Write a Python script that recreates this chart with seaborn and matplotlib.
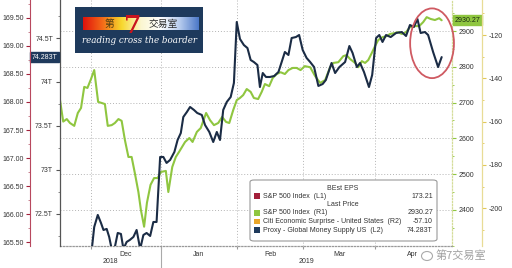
import numpy as np
import pandas as pd
import matplotlib
matplotlib.use("Agg")
import matplotlib.pyplot as plt
import seaborn as sns
import matplotlib.transforms as mtransforms
from matplotlib.patches import Ellipse, FancyBboxPatch, Rectangle
from matplotlib.ticker import FixedLocator, FixedFormatter, NullFormatter, MultipleLocator
from matplotlib.colors import LinearSegmentedColormap

# ---------------- data (x = trading-day position on the chart) ----------------
spx_day = [0.0, 0.9, 1.9, 2.8, 4.0, 5.0, 5.9, 6.8, 7.7, 8.7, 9.6, 10.7, 11.7, 12.6, 13.4,
           14.5, 15.4, 16.4, 17.3, 18.2, 19.2, 20.1, 21.0, 22.0, 22.7, 23.6, 24.4, 25.4,
           26.4, 27.4, 28.3, 29.7, 30.4, 31.5, 32.5, 33.4, 35.1, 36.3, 37.2, 38.4, 39.5,
           41.0, 42.1, 43.2, 44.4, 45.5, 46.6, 47.5, 48.6, 49.6, 50.5, 51.4, 52.4, 53.5,
           54.4, 55.6, 56.6, 57.5, 58.7, 59.7, 60.8, 61.9, 63.1, 64.1, 65.3, 66.4, 67.5,
           68.7, 70.2, 71.6, 73.0, 74.4, 75.8, 76.7, 78.1, 79.5, 80.4, 81.4, 82.8, 83.7,
           84.7, 85.6, 86.5, 87.5, 88.4, 89.3, 90.5, 91.7, 92.6, 93.7, 94.9, 95.9, 97.1,
           98.2, 99.6, 100.8, 101.9, 102.9, 104.0, 105.2, 106.4, 107.1]
spx_val = [2707, 2647, 2654, 2643, 2635, 2671, 2685, 2744, 2741, 2766, 2791, 2702, 2699, 2696, 2635,
           2637, 2643, 2654, 2649, 2596, 2548, 2548, 2503, 2450, 2400, 2353, 2420, 2470,
           2489, 2489, 2506, 2509, 2450, 2520, 2548, 2562, 2590, 2601, 2590, 2618, 2629,
           2671, 2651, 2637, 2643, 2660, 2646, 2643, 2679, 2707, 2713, 2721, 2738, 2730,
           2713, 2710, 2730, 2752, 2746, 2769, 2780, 2785, 2780, 2791, 2797, 2797, 2791,
           2802, 2799, 2774, 2755, 2763, 2799, 2811, 2813, 2830, 2833, 2822, 2811, 2799,
           2816, 2811, 2819, 2839, 2858, 2875, 2883, 2886, 2892, 2894, 2897, 2892, 2897,
           2911, 2914, 2914, 2925, 2939, 2934, 2931, 2936, 2930.27]

money_day = [8.9, 9.6, 10.6, 11.5, 12.2, 13.1, 13.8, 14.5, 15.4, 16.2, 17.1, 17.8, 18.7, 19.6,
             20.6, 21.5, 22.5, 23.4, 24.3, 25.3, 26.2, 27.1, 28.1, 29.0, 29.9, 30.9, 32.1,
             33.0, 33.9, 34.6, 35.6, 36.5, 37.6, 38.5, 39.8, 40.7, 41.9, 43.0, 44.0, 44.9,
             45.8, 46.8, 47.9, 48.8, 49.6, 50.5, 51.6, 52.6, 53.5, 54.4, 55.4, 56.1, 56.9,
             57.8, 58.9, 60.1, 61.3, 62.2, 63.1, 64.1, 65.0, 66.2, 67.1, 68.1, 69.2, 70.2,
             71.3, 72.5, 73.7, 74.6, 76.2, 77.2, 78.4, 80.0, 81.2, 82.1, 83.3, 84.2, 85.3,
             86.7, 87.6, 88.7, 89.6, 90.5, 91.5, 92.8, 94.3, 95.9, 97.1, 98.2, 99.3, 100.3,
             101.2, 102.4, 103.3, 104.7, 106.1, 107.1]
money_val = [72.09, 72.352, 72.489, 72.398, 72.318, 72.330, 72.239, 72.102, 72.125, 72.284,
             72.273, 72.102, 72.182, 72.205, 72.239, 72.318, 72.102, 72.261, 72.284, 72.250,
             72.409, 72.409, 73.148, 73.148, 73.080, 73.114, 73.205, 73.341, 73.420, 73.602,
             73.659, 73.716, 73.682, 73.648, 73.625, 73.511, 73.432, 73.318, 73.432, 73.341,
             73.682, 73.773, 73.830, 73.989, 74.682, 74.489, 74.420, 74.386, 74.250, 74.227,
             74.193, 73.943, 74.102, 74.057, 74.057, 74.068, 74.114, 74.227, 74.341, 74.307,
             74.500, 74.511, 74.534, 74.364, 74.273, 74.227, 74.170, 73.955, 73.977, 74.023,
             74.216, 74.102, 74.170, 74.227, 74.409, 74.330, 74.170, 74.216, 74.114, 73.943,
             74.080, 74.500, 74.534, 74.455, 74.534, 74.511, 74.557, 74.568, 74.523, 74.648,
             74.625, 74.716, 74.557, 74.568, 74.534, 74.341, 74.170, 74.283]

month_names = ["Dec", "Jan", "Feb", "Mar", "Apr"]
month_bounds = [8.7, 28.3, 49.7, 68.2, 88.4, 109.4]
year_names = ["2018", "2019"]
year_bounds = [0.0, 28.3, 110.0]

l1_ticks = [165.5, 166.0, 166.5, 167.0, 167.5, 168.0, 168.5, 169.0, 169.5]
l2_ticks = [72.5, 73.0, 73.5, 74.0, 74.5]
l2_labels = ["72.5T", "73T", "73.5T", "74T", "74.5T"]
r1_ticks = [2400, 2500, 2600, 2700, 2800, 2900]
r2_ticks = [-200, -180, -160, -140, -120]

legend_header1 = "BEst EPS"
legend_header2 = "Last Price"
legend_names = ["S&P 500 Index  (L1)", "S&P 500 Index  (R1)",
                "Citi Economic Surprise - United States  (R2)",
                "Proxy - Global Money Supply US  (L2)"]
legend_values = ["173.21", "2930.27", "-57.10", "74.283T"]

# ---------------- style ----------------
GREEN = "#8fc640"
NAVY = "#1b2c45"
RED = "#a3203a"
ORANGE = "#e9a62a"
TXT = "#333333"

sns.set_style("white")
plt.rcParams['font.family'] = ['Liberation Sans', 'DejaVu Sans']

W, H = 512, 268
DPI = 100
PX = 72 / DPI  # points per pixel
fig = plt.figure(figsize=(W / DPI, H / DPI), dpi=DPI)
fig.patch.set_facecolor("white")

ax0 = fig.add_axes([60 / W, 22 / H, 392 / W, 246 / H])  # R1 (S&P 500)
ax_l2 = ax0.twinx()   # money supply on the left
ax_l1 = ax0.twinx()   # EPS outer left
ax_r2 = ax0.twinx()   # Citi outer right

spx_df = pd.DataFrame({"day": spx_day, "value": spx_val})
money_df = pd.DataFrame({"day": money_day, "value": money_val})

sns.lineplot(data=spx_df, x="day", y="value", ax=ax0, color=GREEN, lw=1.5, sort=True)
sns.lineplot(data=money_df, x="day", y="value", ax=ax_l2, color=NAVY, lw=1.5, sort=True)

for a in (ax0, ax_l2, ax_l1, ax_r2):
    a.set_xlabel("")
    a.set_ylabel("")
    for s in a.spines.values():
        s.set_visible(False)

ax0.set_xlim(0, 110)
ax0.set_ylim(2299, 2987)
ax_l2.set_ylim(72.136, 74.932)
ax_l1.set_ylim(165.43, 169.82)
ax_r2.set_ylim(-217.5, -103.8)

# --- R1 axis (right spine)
ax0.yaxis.tick_right()
ax0.set_yticks(r1_ticks)
ax0.set_yticklabels([str(t) for t in r1_ticks])
ax0.yaxis.set_minor_locator(MultipleLocator(50))
ax0.spines['right'].set_visible(True)
ax0.spines['right'].set_color("#d4dc98")
ax0.spines['right'].set_linestyle((0, (1, 1.5)))
ax0.spines['right'].set_linewidth(0.9)
ax0.tick_params(axis='y', which='major', right=True, left=False, length=3, width=0.8,
                color=GREEN, labelcolor=TXT, labelsize=5, pad=2)
ax0.tick_params(axis='y', which='minor', right=True, left=False, length=1.5, width=0.6, color=GREEN)

# grid
ax0.grid(axis='y', which='major', ls=(0, (1, 2)), color="#b4b4b4", lw=0.7)
ax0.xaxis.set_major_locator(FixedLocator(month_bounds[:5]))
ax0.xaxis.set_major_formatter(NullFormatter())
mids = [(month_bounds[i] + month_bounds[i + 1]) / 2 for i in range(5)]
ax0.xaxis.set_minor_locator(FixedLocator(mids))
ax0.xaxis.set_minor_formatter(FixedFormatter(month_names))
ax0.grid(axis='x', which='major', ls=(0, (1, 2)), color="#b4b4b4", lw=0.7)
ax0.tick_params(axis='x', which='major', length=2, color="#999999", bottom=True)
ax0.tick_params(axis='x', which='minor', length=0, labelsize=5, labelcolor=TXT, pad=3.5, bottom=True)
ax0.spines['bottom'].set_visible(True)
ax0.spines['bottom'].set_color("#999999")
ax0.spines['bottom'].set_linestyle((0, (1, 1.5)))
ax0.spines['bottom'].set_linewidth(0.9)

# year labels and separator
xb = mtransforms.blended_transform_factory(ax0.transData, ax0.transAxes)
for i, yname in enumerate(year_names):
    xm = (year_bounds[i] + year_bounds[i + 1]) / 2
    ax0.text(xm, -0.065, yname, transform=xb, ha='center', va='center', fontsize=5, color=TXT)
ax0.plot([year_bounds[1], year_bounds[1]], [-0.005, -0.095], transform=xb, color="#aaaaaa",
         lw=0.8, clip_on=False)

# --- L2 axis (main left spine)
ax_l2.yaxis.tick_left()
ax_l2.set_yticks(l2_ticks)
ax_l2.set_yticklabels(l2_labels)
ax_l2.yaxis.set_minor_locator(MultipleLocator(0.25))
ax_l2.spines['left'].set_visible(True)
ax_l2.spines['left'].set_color("#555555")
ax_l2.spines['left'].set_linewidth(0.9)
ax_l2.tick_params(axis='y', which='major', left=True, right=False, length=3, width=0.8,
                  color="#555555", labelcolor=TXT, labelsize=5, pad=2)
ax_l2.tick_params(axis='y', which='minor', left=True, right=False, length=1.5, width=0.6, color="#777777")

# --- L1 axis (outer left, 30 px out)
ax_l1.yaxis.tick_left()
ax_l1.spines['left'].set_visible(True)
ax_l1.spines['left'].set_position(('outward', 30 * PX))
ax_l1.spines['left'].set_color("#b8485e")
ax_l1.spines['left'].set_linewidth(0.8)
ax_l1.set_yticks(l1_ticks)
ax_l1.set_yticklabels([f"{t:.2f}" for t in l1_ticks])
ax_l1.yaxis.set_minor_locator(MultipleLocator(0.25))
ax_l1.tick_params(axis='y', which='major', left=True, right=False, length=3, width=0.8,
                  color=RED, labelcolor=TXT, labelsize=5, pad=1.5)
ax_l1.tick_params(axis='y', which='minor', left=True, right=False, length=1.5, width=0.6, color="#c07080")

# --- R2 axis (outer right, 30 px out)
ax_r2.spines['right'].set_visible(True)
ax_r2.spines['right'].set_position(('outward', 30 * PX))
ax_r2.spines['right'].set_color("#e8dc96")
ax_r2.spines['right'].set_linewidth(0.9)
ax_r2.set_yticks(r2_ticks)
ax_r2.set_yticklabels([str(t) for t in r2_ticks])
ax_r2.yaxis.set_minor_locator(MultipleLocator(10))
ax_r2.tick_params(axis='y', which='major', right=True, left=False, length=3, width=0.8,
                  color="#e2c85a", labelcolor=TXT, labelsize=5, pad=2)
ax_r2.tick_params(axis='y', which='minor', right=True, left=False, length=1.5, width=0.6, color="#e2c85a")

for a in (ax_l2, ax_l1, ax_r2):
    a.tick_params(axis='x', which='both', bottom=False, labelbottom=False)

# --- last value tags
tl = mtransforms.blended_transform_factory(ax_l2.transAxes, ax_l2.transData)
ax_l2.text(-0.006, money_val[-1], "74.283T", transform=tl, ha='right', va='center', fontsize=5,
           color='white', clip_on=False, zorder=10,
           bbox=dict(boxstyle='square,pad=0.22', fc='#1f3a5c', ec='#1f3a5c'))
tr = mtransforms.blended_transform_factory(ax0.transAxes, ax0.transData)
ax0.text(1.006, spx_val[-1], "2930.27", transform=tr, ha='left', va='center', fontsize=5,
         color='#1a2a10', clip_on=False, zorder=10,
         bbox=dict(boxstyle='square,pad=0.22', fc=GREEN, ec=GREEN))

# --- red ellipse highlight
ell = Ellipse((104.4, 2866), width=12.3, height=195, transform=ax0.transData, fill=False,
              ec="#cf5a62", lw=1.3, zorder=6)
fig.add_artist(ell)

# --- legend box (custom, Bloomberg style)
def fx(px):
    return px / W

def fy(py):
    return 1 - py / H

box = FancyBboxPatch((fx(250), fy(241)), fx(437) - fx(250), fy(180) - fy(241),
                     boxstyle="round,pad=0,rounding_size=0.008", transform=fig.transFigure,
                     fc="white", ec="#9a9a9a", lw=0.8, zorder=7)
fig.add_artist(box)
fig.text(fx(343), fy(188), legend_header1, ha='center', va='center', fontsize=5, color=TXT, zorder=8)
fig.text(fx(343), fy(204.5), legend_header2, ha='center', va='center', fontsize=5, color=TXT, zorder=8)
rows_y = [196, 213, 221.5, 230]
colors = [RED, GREEN, ORANGE, "#1f3a5c"]
for yy, c, name, val in zip(rows_y, colors, legend_names, legend_values):
    sq = Rectangle((fx(254), fy(yy + 2.6)), fx(5.5), 5.5 / H, transform=fig.transFigure,
                   fc=c, ec='none', zorder=8)
    fig.add_artist(sq)
    fig.text(fx(263), fy(yy), name, ha='left', va='center', fontsize=5, color=TXT, zorder=8)
    fig.text(fx(433), fy(yy), val, ha='right', va='center', fontsize=5, color=TXT, zorder=8)

# --- logo
lax = fig.add_axes([fx(75), fy(53), (203 - 75) / W, 46 / H])
lax.set_facecolor("#1e3a5c")
lax.set_xlim(0, 1)
lax.set_ylim(0, 1)
lax.set_xticks([])
lax.set_yticks([])
for s in lax.spines.values():
    s.set_visible(False)
cmap = LinearSegmentedColormap.from_list(
    "logo", ["#e0120c", "#f36a18", "#f7d82c", "#fbf6d0", "#ffffff", "#b8cdef", "#4b78c8"])
grad = np.linspace(0, 1, 256).reshape(1, -1)
lax.imshow(grad, extent=[0.06, 0.96, 0.50, 0.78], aspect='auto', cmap=cmap, zorder=1)
lax.text(0.27, 0.64, "第", ha='center', va='center', fontsize=7, color="#4a3a10",
         family=['Noto Sans CJK SC', 'DejaVu Sans'], zorder=2)
lax.text(0.69, 0.64, "交易室", ha='center', va='center', fontsize=7, color="#2a2a2a",
         family=['Noto Sans CJK SC', 'DejaVu Sans'], zorder=2)
lax.text(0.45, 0.58, "7", ha='center', va='center', fontsize=18, color="#c8141e",
         fontweight='bold', family='DejaVu Serif', zorder=3)
lax.text(0.5, 0.27, "reading cross the boarder", ha='center', va='center', fontsize=6.3,
         color="white", style='italic', family='DejaVu Serif', zorder=3)

# --- watermark
wm = Ellipse((fx(427), fy(256)), 11 / W, 9 / H, transform=fig.transFigure, fill=False,
             ec="#aaaaaa", lw=0.8)
fig.add_artist(wm)
fig.text(fx(436), fy(256), "第7交易室", ha='left', va='center', fontsize=8, color="#a0a0a0",
         family=['Noto Sans CJK SC', 'DejaVu Sans'])

fig.savefig("out.png", dpi=DPI, facecolor="white")
